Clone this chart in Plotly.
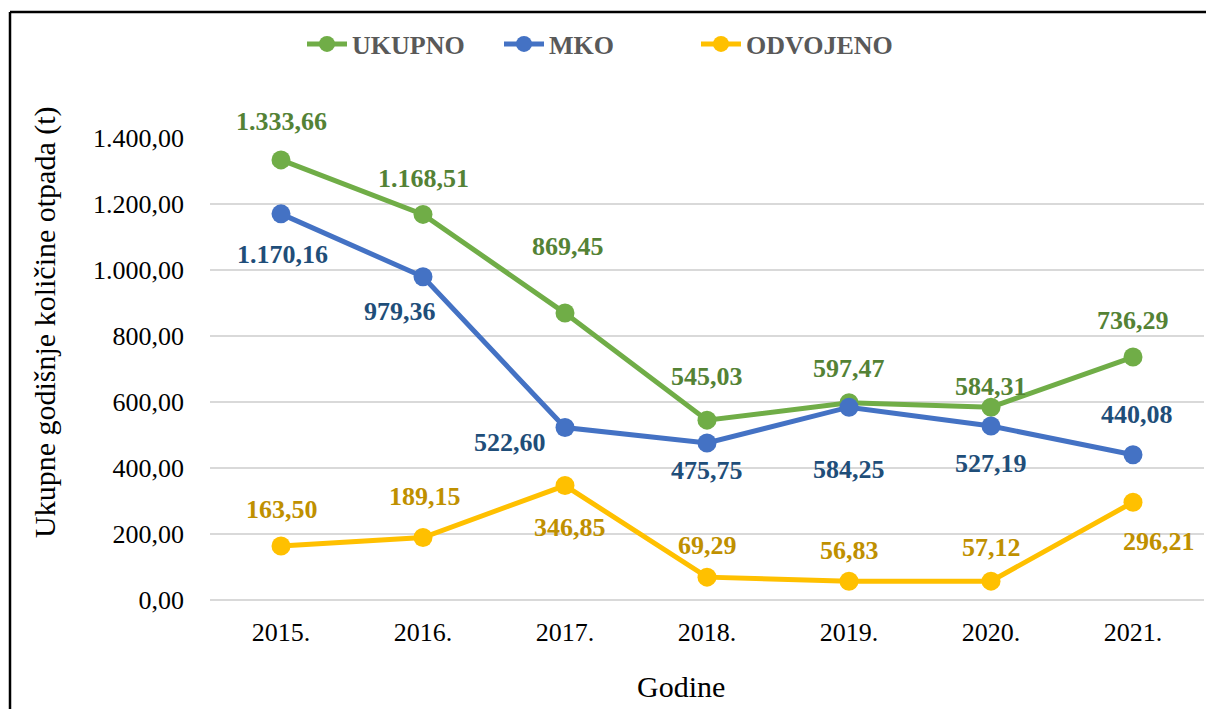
import plotly.graph_objects as go

years = [2015, 2016, 2017, 2018, 2019, 2020, 2021]
year_labels = ["2015.", "2016.", "2017.", "2018.", "2019.", "2020.", "2021."]
ukupno = [1333.66, 1168.51, 869.45, 545.03, 597.47, 584.31, 736.29]
mko = [1170.16, 979.36, 522.60, 475.75, 584.25, 527.19, 440.08]
odvojeno = [163.50, 189.15, 346.85, 69.29, 56.83, 57.12, 296.21]
y_ticks = [0, 200, 400, 600, 800, 1000, 1200, 1400]

# label offsets (px) relative to each point: (xshift, yshift)
off_uk = [(0, 38), (0, 36), (3, 67), (0, 44), (0, 34), (0, 21), (0, 37)]
off_mko = [(1, -41), (-23, -35), (-55, -15), (0, -27), (0, -62), (0, -37), (4, 40)]
off_odv = [(1, 37), (2, 41), (5, -42), (0, 32), (0, 31), (0, 34), (26, -39)]

FONT = "Liberation Serif, Times New Roman, serif"


def fmt(v):
    return f"{v:,.2f}".replace(",", "X").replace(".", ",").replace("X", ".")


series = [
    ("UKUPNO", ukupno, "#70AD47", "#548235", off_uk),
    ("MKO", mko, "#4472C4", "#1F4E79", off_mko),
    ("ODVOJENO", odvojeno, "#FFC000", "#BF9000", off_odv),
]

fig = go.Figure()
annotations = []
for name, vals, col, lcol, offs in series:
    fig.add_trace(go.Scatter(
        x=years, y=vals, name=name, mode="lines+markers",
        line=dict(color=col, width=5),
        marker=dict(color=col, size=19),
        cliponaxis=False,
    ))
    for xv, yv, (dx, dy) in zip(years, vals, offs):
        annotations.append(dict(
            x=xv, y=yv, xref="x", yref="y", text=fmt(yv), showarrow=False,
            xshift=dx, yshift=dy,
            font=dict(family=FONT, size=26, color=lcol, weight="bold"),
        ))

W, H = 1206, 709
L, T = 210, 138
B = H - 600
R = W - 1204
pw, ph = W - L - R, H - T - B


def px(x):
    return (x - L) / pw


def py(y):
    return (H - B - y) / ph


annotations.append(dict(
    x=px(45), y=py(322), xref="paper", yref="paper", text="Ukupne godišnje količine otpada (t)",
    textangle=-90, showarrow=False, xanchor="center", yanchor="middle",
    font=dict(family=FONT, size=30, color="#000000"),
))
annotations.append(dict(
    x=px(681), y=py(686), xref="paper", yref="paper", text="Godine",
    showarrow=False, xanchor="center", yanchor="middle",
    font=dict(family=FONT, size=30, color="#000000"),
))

fig.update_layout(
    width=W, height=H,
    margin=dict(l=L, r=R, t=T, b=B, autoexpand=False),
    paper_bgcolor="white", plot_bgcolor="white",
    separators=",.",
    showlegend=True,
    legend=dict(
        orientation="h", x=px(302), y=py(44), xanchor="left", yanchor="middle",
        font=dict(family=FONT, size=26, color="#595959", weight="bold"),
        bgcolor="rgba(0,0,0,0)", itemwidth=40,
        entrywidth=142, entrywidthmode="pixels",
    ),
    annotations=annotations,
    shapes=[
        dict(type="line", xref="paper", yref="paper",
             x0=px(10), x1=px(1230), y0=py(12), y1=py(12),
             line=dict(color="#000000", width=2.5), layer="above"),
        dict(type="line", xref="paper", yref="paper",
             x0=px(10), x1=px(10), y0=py(12), y1=py(730),
             line=dict(color="#000000", width=2.5), layer="above"),
    ],
)

fig.update_xaxes(
    range=[2014.5, 2021.5], tickvals=years, ticktext=year_labels,
    showgrid=False, showline=False, zeroline=False,
    ticks="", ticklabelstandoff=14,
    tickfont=dict(family=FONT, size=26, color="#000000"),
)
fig.update_yaxes(
    range=[0, 1400], tickvals=y_ticks, tickformat=",.2f",
    showgrid=True, gridcolor="#D9D9D9", gridwidth=1.5,
    zeroline=True, zerolinecolor="#D9D9D9", zerolinewidth=1.5,
    showline=False, ticks="", ticklabelstandoff=25,
    tickfont=dict(family=FONT, size=26, color="#000000"),
)

fig.write_html(
    "out.html",
    config={"displayModeBar": False},
    post_script="document.body.style.margin='0';document.body.style.overflow='hidden';",
)
